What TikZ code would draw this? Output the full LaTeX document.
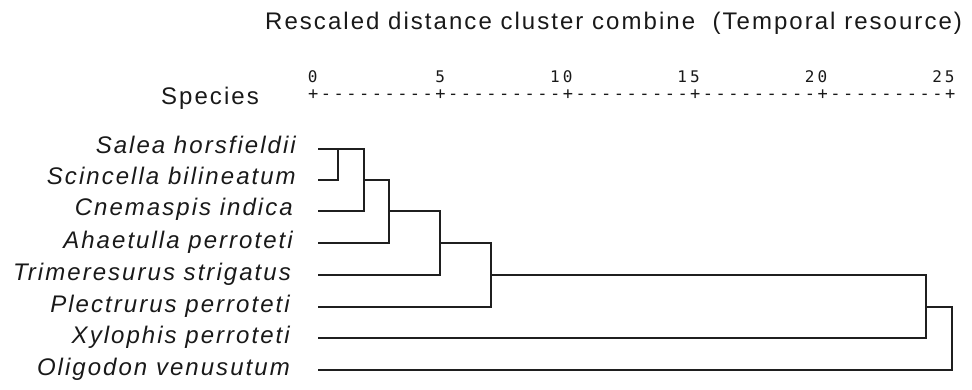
\documentclass[tikz,border=0pt]{standalone}
\usepackage{fontspec}
\setmainfont{Liberation Sans}
\newfontfamily\labfont[LetterSpace=8.5]{Liberation Sans}
\newfontfamily\axisfont{DejaVu Sans Mono}
\def\spacedchars#1{\ifx#1\relax\else\makebox[12.74pt]{#1}\expandafter\spacedchars\fi}
\begin{document}
\begin{tikzpicture}[x=1pt,y=-1pt,
  lab/.style={inner sep=0pt, font=\labfont\fontsize{24}{28}\selectfont, text=black!90},
  spec/.style={inner sep=0pt, font=\labfont\itshape\fontsize{24}{28}\selectfont, text=black!90, anchor=base east},
  tick/.style={inner sep=0pt, font=\axisfont\fontsize{16}{18}\selectfont, text=black!90, anchor=base east},
  axisrow/.style={inner sep=0pt, font=\axisfont\fontsize{17}{19}\selectfont, text=black!90, anchor=base west},
  dendro/.style={line width=1.8pt, draw=black!88}
]
\useasboundingbox (0,0) rectangle (972,390);
% title and axis
\node[lab, anchor=base west] (title) at (265,30) {Rescaled distance cluster combine\ \ (Temporal resource)};
\node[lab, anchor=base west] (species) at (161,105) {Species};
\node[axisrow] (axis) at (306.63,100) {\spacedchars+---------+---------+---------+---------+---------+\relax};
\node[tick] (t0) at (319.37,83) {\spacedchars0\relax};
\node[tick] (t5) at (446.77,83) {\spacedchars5\relax};
\node[tick] (t10) at (574.17,83) {\spacedchars10\relax};
\node[tick] (t15) at (701.57,83) {\spacedchars15\relax};
\node[tick] (t20) at (828.97,83) {\spacedchars20\relax};
\node[tick] (t25) at (956.37,83) {\spacedchars25\relax};
% species labels
\node[spec] (s1) at (296,154) {Salea horsfieldii};
\node[spec] (s2) at (296,185) {Scincella bilineatum};
\node[spec] (s3) at (293,216) {Cnemaspis indica};
\node[spec] (s4) at (293,248) {Ahaetulla perroteti};
\node[spec] (s5) at (291,280) {Trimeresurus strigatus};
\node[spec] (s6) at (290,312) {Plectrurus perroteti};
\node[spec] (s7) at (290,343) {Xylophis perroteti};
\node[spec] (s8) at (290,375) {Oligodon venusutum};
% leaf ends
\coordinate (l1) at (318,149);
\coordinate (l2) at (318,180);
\coordinate (l3) at (318,211);
\coordinate (l4) at (318,243);
\coordinate (l5) at (318,275);
\coordinate (l6) at (318,307);
\coordinate (l7) at (318,338);
\coordinate (l8) at (318,370);
% join positions
\coordinate (j1) at (338,0);
\coordinate (j2) at (364,0);
\coordinate (j3) at (389,0);
\coordinate (j4) at (440,0);
\coordinate (j5) at (491,0);
\coordinate (j6) at (926,0);
\coordinate (j7) at (952,0);
% dendrogram
\draw[dendro] (l2) -| (j1 |- l1);
\draw[dendro] (l1) -| (j2 |- l3) -- (l3);
\draw[dendro] (j2 |- l2) -| (j3 |- l4) -- (l4);
\draw[dendro] (j3 |- l3) -| (j4 |- l5) -- (l5);
\draw[dendro] (j4 |- l4) -| (j5 |- l6) -- (l6);
\draw[dendro] (j5 |- l5) -| (j6 |- l7) -- (l7);
\draw[dendro] (j6 |- l6) -| (j7 |- l8) -- (l8);
\end{tikzpicture}
\end{document}
